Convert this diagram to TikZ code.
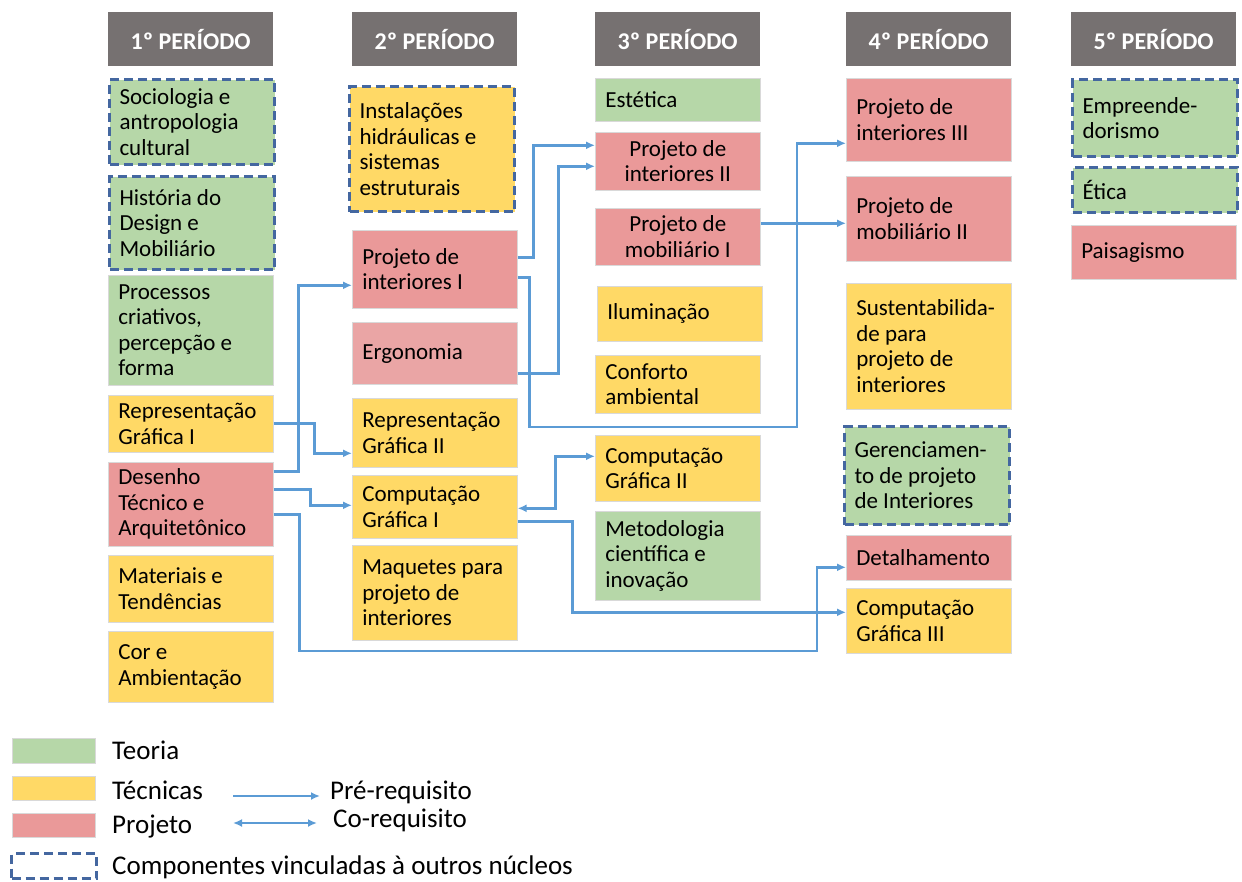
\documentclass[tikz,border=0pt]{standalone}
\usepackage{fontspec}
\setmainfont{Carlito}
\usepackage{xcolor}
\usetikzlibrary{arrows.meta}

\definecolor{teoria}{RGB}{182,215,168}
\definecolor{tecnica}{RGB}{255,217,102}
\definecolor{projeto}{RGB}{234,153,153}
\definecolor{ergo}{RGB}{234,165,165}
\definecolor{cabeca}{RGB}{118,113,113}
\definecolor{vinc}{RGB}{68,103,160}
\definecolor{seta}{RGB}{91,155,213}

\tikzset{
  box/.style={rectangle, anchor=north west, draw=black!15, line width=0.6pt,
    text width=145pt, inner xsep=10pt, inner ysep=2pt, align=flush left,
    font=\fontsize{23}{25.5}\selectfont},
  vinculada/.style={draw=vinc, line width=3pt, dash pattern=on 9pt off 5pt},
  head/.style={rectangle, anchor=north west, fill=cabeca, text=white,
    minimum width=165pt, minimum height=54pt,
    font=\fontsize{24}{25}\selectfont\bfseries},
  legenda/.style={anchor=base west, inner sep=0pt, font=\fontsize{27}{28}\selectfont},
  pre/.style={draw=seta, line width=2.7pt, -{Latex[length=9pt,width=8pt]}},
  co/.style={pre, {Latex[length=9pt,width=8pt]}-{Latex[length=9pt,width=8pt]}},
}

\begin{document}
\begin{tikzpicture}[x=1pt,y=-1pt]
\useasboundingbox (0,0) rectangle (1242,881);

% cabecalhos dos periodos
\foreach \n/\x in {1/108,2/352,3/595,4/846,5/1071}
  \node[head] (p\n) at (\x,12) {\n º PERÍODO};

% 1o periodo
\node[box, fill=teoria, vinculada, minimum height=85pt] (soc) at (108,78) {Sociologia e\\antropologia\\cultural};
\node[box, fill=teoria, vinculada, minimum height=93pt] (hist) at (108,175) {História do\\Design e\\Mobiliário};
\node[box, fill=teoria, minimum height=110pt] (proc) at (108,275) {Processos\\criativos,\\percepção e\\forma};
\node[box, fill=tecnica, minimum height=57pt] (rg1) at (108,395) {Representação\\Gráfica I};
\node[box, fill=projeto, minimum height=84pt] (dt) at (108,462) {Desenho\\Técnico e\\Arquitetônico};
\node[box, fill=tecnica, minimum height=67pt] (mat) at (108,555) {Materiais e\\Tendências};
\node[box, fill=tecnica, minimum height=71pt] (cor) at (108,631) {Cor e\\Ambientação};

% 2o periodo
\node[box, fill=tecnica, vinculada, minimum height=125pt] (inst) at (348,85) {Instalações\\hidráulicas e\\sistemas\\estruturais};
\node[box, fill=projeto, minimum height=78pt] (pi1) at (352,230) {Projeto de\\interiores I};
\node[box, fill=ergo, minimum height=62pt] (erg) at (352,322) {Ergonomia};
\node[box, fill=tecnica, minimum height=69pt] (rg2) at (352,398) {Representação\\Gráfica II};
\node[box, fill=tecnica, minimum height=63pt] (cg1) at (352,475) {Computação\\Gráfica I};
\node[box, fill=tecnica, minimum height=95pt] (maq) at (352,545) {Maquetes para\\projeto de\\interiores};

% 3o periodo
\node[box, fill=teoria, minimum height=43pt] (est) at (595,78) {Estética};
\node[box, fill=projeto, align=flush center, minimum height=58pt] (pi2) at (595,132) {Projeto de\\interiores II};
\node[box, fill=projeto, align=flush center, minimum height=57pt] (pm1) at (595,208) {Projeto de\\mobiliário I};
\node[box, fill=tecnica, minimum height=55pt] (ilu) at (597,286) {Iluminação};
\node[box, fill=tecnica, minimum height=58pt] (conf) at (595,355) {Conforto\\ambiental};
\node[box, fill=tecnica, minimum height=66pt] (cg2) at (595,435) {Computação\\Gráfica II};
\node[box, fill=teoria, minimum height=89pt] (met) at (595,511) {Metodologia\\científica e\\inovação};

% 4o periodo
\node[box, fill=projeto, minimum height=83pt] (pi3) at (846,78) {Projeto de\\interiores III};
\node[box, fill=projeto, minimum height=85pt] (pm2) at (846,176) {Projeto de\\mobiliário II};
\node[box, fill=tecnica, minimum height=126pt] (sus) at (846,283) {Sustentabilida-\\de para\\projeto de\\interiores};
\node[box, fill=teoria, vinculada, minimum height=98pt] (ger) at (843,425) {Gerenciamen-\\to de projeto\\de Interiores};
\node[box, fill=projeto, minimum height=45pt] (det) at (846,535) {Detalhamento};
\node[box, fill=tecnica, minimum height=65pt] (cg3) at (846,588) {Computação\\Gráfica III};

% 5o periodo
\node[box, fill=teoria, vinculada, minimum height=77pt] (emp) at (1071,78) {Empreende-\\dorismo};
\node[box, fill=teoria, vinculada, minimum height=45pt] (eti) at (1071,166) {Ética};
\node[box, fill=projeto, minimum height=54pt] (pai) at (1071,225) {Paisagismo};

% pre-requisitos
\draw[pre] ([yshift=12pt]pi1.east) -- ++(16,0) |- ([yshift=16pt]pi2.west);
\draw[pre] ([yshift=-20pt]erg.east) -- ++(41,0) |- ([yshift=-5pt]pi2.west);
\draw[pre] ([yshift=-8pt]pi1.east) -- ++(12,0) |- (797,427) |- ([yshift=-23.5pt]pi3.west);
\draw[pre] ([yshift=13.5pt]pm1.east) -- ([yshift=-4.5pt]pm2.west);
\draw[pre] ([yshift=0.5pt]rg1.east) -- ++(41,0) |- ([yshift=-20.5pt]rg2.west);
\draw[pre] ([yshift=33pt]dt.east) -- ++(25,0) |- ([yshift=-16pt]pi1.west);
\draw[pre] ([yshift=15pt]dt.east) -- ++(37,0) |- ([yshift=1.5pt]cg1.west);
\draw[pre] ([yshift=-10pt]dt.east) -- ++(26,0) |- (817,651) |- ([yshift=-9.5pt]det.west);
\draw[pre] ([yshift=-14.5pt]cg1.east) -- ++(55,0) |- ([yshift=8.5pt]cg3.west);
% co-requisito
\draw[co] ([yshift=-1.5pt]cg1.east) -- ++(38,0) |- ([yshift=12pt]cg2.west);

% legenda
\node[fill=teoria, draw=black!15, line width=0.6pt, anchor=north west, minimum width=83pt, minimum height=25pt] (kteo) at (12,738) {};
\node[fill=tecnica, draw=black!15, line width=0.6pt, anchor=north west, minimum width=83pt, minimum height=24pt] (ktec) at (12,776) {};
\node[fill=projeto, draw=black!15, line width=0.6pt, anchor=north west, minimum width=83pt, minimum height=24pt] (kpro) at (12,813) {};
\node[vinculada, anchor=north west, minimum width=85pt, minimum height=25pt] (kvin) at (10,852) {};
\node[legenda] (lteo) at (112,759) {Teoria};
\node[legenda] (ltec) at (112,799) {Técnicas};
\node[legenda] (lpro) at (112,833) {Projeto};
\node[legenda] (lvin) at (112,874) {Componentes vinculadas à outros núcleos};
\node[legenda] (lpre) at (330,799) {Pré-requisito};
\node[legenda] (lco) at (333,827) {Co-requisito};
\coordinate (kpre) at (233,796);
\coordinate (kco) at (233,823);
\draw[pre] (kpre) -- ++(87,0);
\draw[co] (kco) -- ++(84,0);
\end{tikzpicture}
\end{document}
